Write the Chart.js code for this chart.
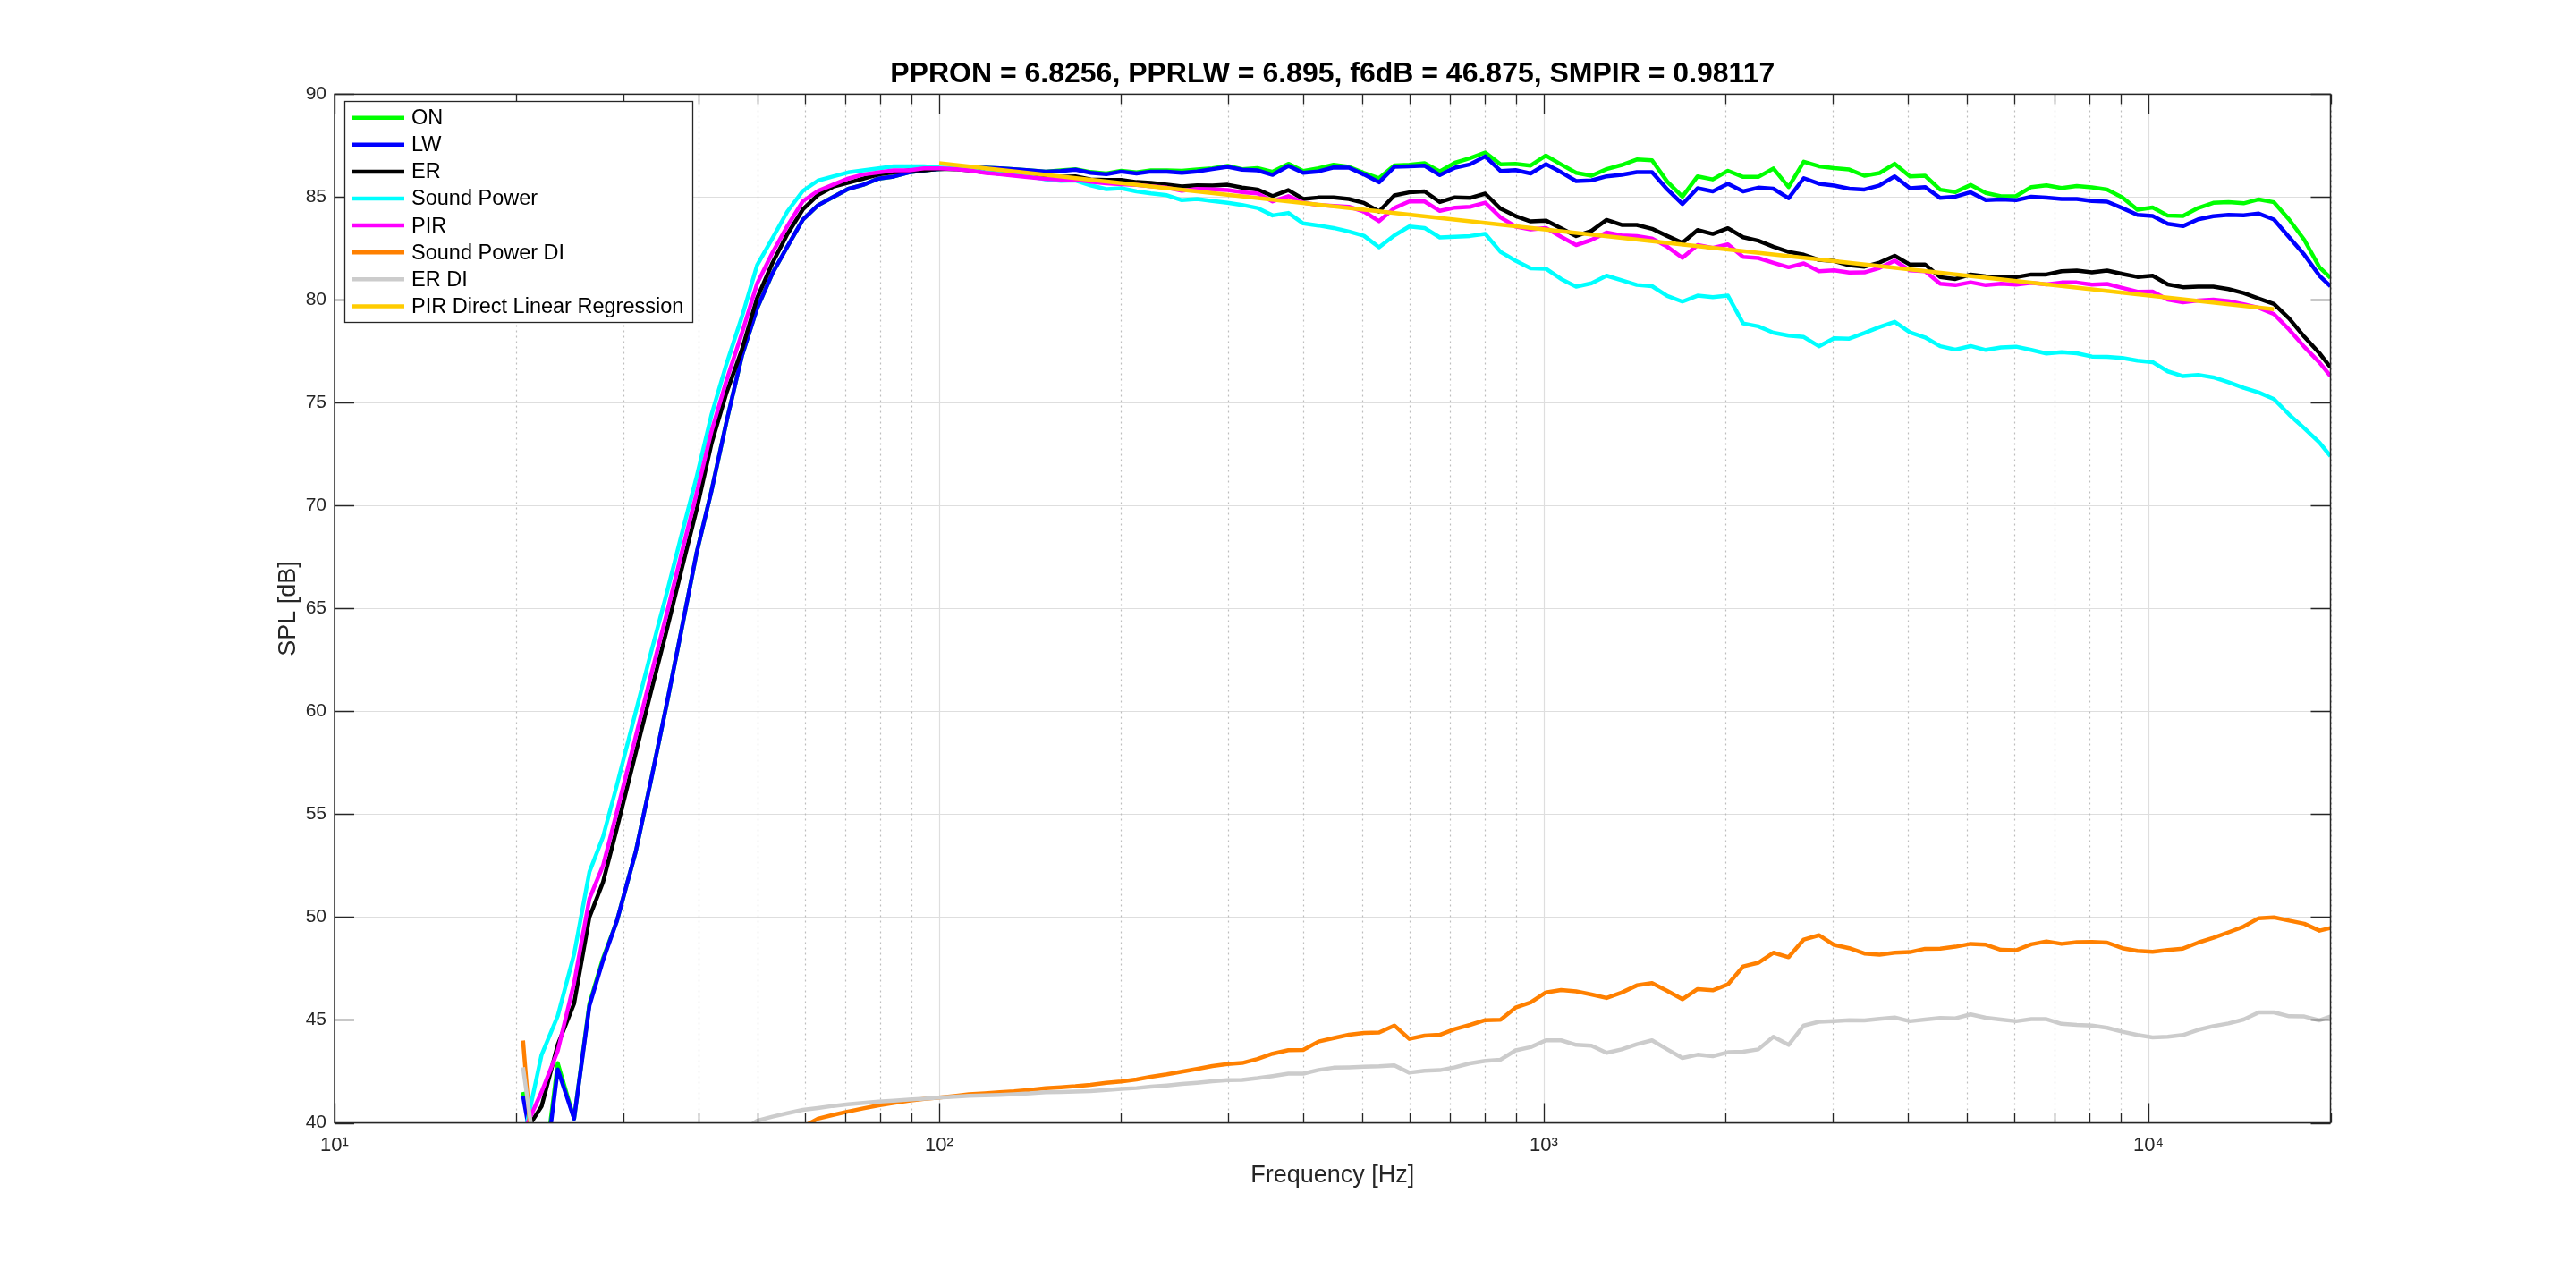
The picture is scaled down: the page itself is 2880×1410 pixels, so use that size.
<!DOCTYPE html>
<html>
<head>
<meta charset="utf-8">
<title>Spinorama</title>
<script src="https://cdn.jsdelivr.net/npm/chart.js@4.4.1/dist/chart.umd.min.js"></script>
<style>
  html, body { margin: 0; padding: 0; background: #fff; }
  #wrap { width: 2880px; height: 1410px; }
</style>
</head>
<body>
<div id="wrap"><canvas id="spl" width="2880" height="1410"></canvas></div>
<script>
'use strict';

// frequencies (Hz) shared by every curve
const freq = [20.5, 22, 23.4, 24.9, 26.4, 27.8, 29.3, 31.5, 33.4, 35.4, 37.5, 39.7, 42, 44.5, 47.2, 50, 53, 56.1, 59.5, 63, 66.7, 70.7, 74.9, 79.4, 84.1, 89.1, 94.4,
  100, 106, 112, 119, 126, 133, 141, 150, 159, 168, 178, 189, 200, 212, 224,
  238, 252, 267, 283, 300, 317, 336, 356, 378, 400, 424, 449, 476, 504, 534, 566, 599, 635, 673, 713, 755, 800, 848, 898, 951, 1008, 1068, 1131, 1199, 1270, 1345,
  1425, 1510, 1600, 1695, 1796, 1903, 2016, 2136, 2263, 2397, 2540, 2691, 2851, 3020, 3200, 3390, 3592, 3805, 4032, 4271, 4525, 4794, 5080, 5382, 5702, 6041, 6400, 6781, 7184, 7611,
  8063, 8543, 9051, 9589, 10159, 10763, 11404, 12082, 12800, 13561, 14368, 15222, 16127, 17086, 18102, 19179, 20000];

const onAxis = [41.5, 36.6, 42.9, 40.2, 45.8, 48.0, 49.8, 53.2, 56.7, 60.3, 64.0, 67.7, 70.7, 74.1, 77.3, 79.6, 81.3, 82.6, 83.9, 84.6, 85.0, 85.4, 85.6, 85.9, 86.0, 86.2, 86.3,
  86.37, 86.4, 86.41, 86.43, 86.4, 86.36, 86.3, 86.24, 86.3, 86.36, 86.22, 86.15, 86.28, 86.2, 86.3,
  86.3, 86.28, 86.34, 86.4, 86.52, 86.36, 86.41, 86.23, 86.62, 86.27, 86.4, 86.57, 86.47, 86.18, 85.92, 86.54, 86.57, 86.65, 86.25, 86.67, 86.89, 87.17, 86.59, 86.62, 86.53, 87.02, 86.59, 86.18, 86.04, 86.36, 86.56,
  86.83, 86.79, 85.75, 85.02, 86.01, 85.86, 86.28, 85.98, 85.98, 86.39, 85.49, 86.72, 86.5, 86.41, 86.34, 86.04, 86.17, 86.62, 86.01, 86.04, 85.36, 85.25, 85.59, 85.2, 85.04, 85.05, 85.49, 85.57, 85.44, 85.54,
  85.47, 85.37, 84.99, 84.39, 84.5, 84.1, 84.08, 84.47, 84.72, 84.76, 84.7, 84.89, 84.75, 83.91, 82.92, 81.59, 81.08];

const listeningWindow = [41.3, 36.3, 42.6, 40.2, 45.7, 47.9, 49.8, 53.2, 56.7, 60.3, 64.0, 67.7, 70.7, 74.1, 77.3, 79.6, 81.3, 82.6, 83.9, 84.6, 85.0, 85.4, 85.6, 85.9, 86.0, 86.2, 86.3,
  86.37, 86.4, 86.41, 86.43, 86.4, 86.36, 86.3, 86.24, 86.27, 86.33, 86.18, 86.11, 86.24, 86.15, 86.24,
  86.24, 86.18, 86.25, 86.36, 86.47, 86.33, 86.3, 86.08, 86.52, 86.18, 86.25, 86.44, 86.43, 86.1, 85.72, 86.47, 86.5, 86.53, 86.07, 86.43, 86.59, 86.98, 86.27, 86.31, 86.15, 86.6, 86.21, 85.78, 85.81, 86.01, 86.08,
  86.21, 86.21, 85.38, 84.66, 85.43, 85.28, 85.65, 85.28, 85.46, 85.41, 84.95, 85.92, 85.65, 85.56, 85.41, 85.37, 85.57, 86.01, 85.43, 85.49, 84.96, 85.02, 85.24, 84.86, 84.89, 84.85, 85.02, 84.97, 84.91, 84.91,
  84.81, 84.78, 84.47, 84.14, 84.08, 83.7, 83.59, 83.92, 84.07, 84.14, 84.12, 84.2, 83.91, 83.05, 82.2, 81.18, 80.67];

const earlyReflections = [39.4, 40.8, 43.8, 45.8, 50.0, 51.7, 54.3, 58.0, 61.0, 63.9, 66.9, 69.8, 73.0, 75.5, 77.6, 80.1, 81.8, 83.2, 84.4, 85.1, 85.5, 85.7, 85.9, 86.1, 86.2, 86.3, 86.3,
  86.38, 86.36, 86.3, 86.2, 86.14, 86.08, 86.02, 85.95, 85.99, 86.01, 85.86, 85.83, 85.83, 85.73, 85.69,
  85.6, 85.52, 85.57, 85.56, 85.6, 85.46, 85.37, 85.05, 85.34, 84.91, 84.98, 84.99, 84.91, 84.72, 84.3, 85.08, 85.23, 85.28, 84.76, 84.99, 84.96, 85.17, 84.44, 84.08, 83.82, 83.86, 83.49, 83.11, 83.36, 83.89, 83.65,
  83.65, 83.46, 83.11, 82.78, 83.4, 83.21, 83.49, 83.05, 82.88, 82.59, 82.34, 82.2, 81.95, 81.9, 81.69, 81.62, 81.82, 82.15, 81.72, 81.72, 81.11, 81.02, 81.24, 81.15, 81.12, 81.11, 81.24, 81.24, 81.4, 81.43,
  81.34, 81.43, 81.27, 81.12, 81.18, 80.76, 80.62, 80.65, 80.65, 80.53, 80.34, 80.07, 79.81, 79.1, 78.21, 77.41, 76.73];

const soundPower = [39.1, 43.3, 45.2, 48.2, 52.2, 53.9, 56.4, 60.0, 62.9, 65.7, 68.6, 71.4, 74.4, 76.9, 79.2, 81.7, 83.0, 84.3, 85.3, 85.8, 86.0, 86.2, 86.3, 86.4, 86.5, 86.5, 86.5,
  86.44, 86.4, 86.33, 86.2, 86.14, 86.08, 86.0, 85.86, 85.79, 85.81, 85.57, 85.39, 85.43, 85.28, 85.18,
  85.09, 84.85, 84.91, 84.81, 84.72, 84.62, 84.47, 84.11, 84.23, 83.72, 83.62, 83.5, 83.33, 83.12, 82.56, 83.14, 83.57, 83.5, 83.04, 83.07, 83.11, 83.21, 82.34, 81.91, 81.54, 81.52, 81.02, 80.65, 80.81, 81.18, 80.96,
  80.73, 80.67, 80.2, 79.92, 80.21, 80.14, 80.21, 78.86, 78.72, 78.41, 78.27, 78.2, 77.75, 78.14, 78.12, 78.39, 78.69, 78.94, 78.43, 78.18, 77.75, 77.59, 77.76, 77.57, 77.69, 77.73, 77.57, 77.4, 77.46, 77.41,
  77.25, 77.24, 77.18, 77.05, 76.98, 76.53, 76.3, 76.36, 76.24, 76.0, 75.73, 75.5, 75.18, 74.43, 73.76, 73.07, 72.41];

const pir = [39.5, 41.5, 43.5, 46.8, 50.9, 52.5, 55.1, 58.8, 61.8, 64.7, 67.7, 70.6, 73.6, 76.1, 78.4, 80.8, 82.3, 83.6, 84.8, 85.3, 85.6, 85.9, 86.1, 86.2, 86.3, 86.3, 86.4,
  86.4, 86.37, 86.3, 86.18, 86.11, 86.04, 85.96, 85.89, 85.86, 85.85, 85.75, 85.67, 85.63, 85.59, 85.53,
  85.46, 85.31, 85.4, 85.38, 85.34, 85.24, 85.18, 84.79, 85.05, 84.73, 84.62, 84.57, 84.53, 84.3, 83.83, 84.47, 84.79, 84.79, 84.33, 84.49, 84.53, 84.73, 84.01, 83.57, 83.43, 83.5, 83.07, 82.67, 82.92, 83.28, 83.14,
  83.11, 82.99, 82.59, 82.05, 82.67, 82.53, 82.7, 82.09, 82.04, 81.81, 81.59, 81.78, 81.4, 81.44, 81.33, 81.34, 81.56, 81.91, 81.44, 81.4, 80.79, 80.72, 80.86, 80.72, 80.79, 80.75, 80.83, 80.76, 80.85, 80.85,
  80.75, 80.78, 80.59, 80.4, 80.41, 80.02, 79.89, 79.97, 80.02, 79.94, 79.79, 79.62, 79.31, 78.56, 77.72, 76.96, 76.3];

// directivity indices sit below the 40 dB floor where they are null
const soundPowerDI = [44.0, 33.0, null, null, null, null, null, null, null, null, null, null, null, null, null, null, null, null, 39.8, 40.2, 40.38, 40.55, 40.7, 40.85, 40.97, 41.08, 41.16,
  41.23, 41.31, 41.39, 41.44, 41.49, 41.53, 41.6, 41.68, 41.73, 41.78, 41.85, 41.95, 42.01, 42.11, 42.24,
  42.36, 42.49, 42.62, 42.76, 42.86, 42.91, 43.1, 43.36, 43.53, 43.54, 43.95, 44.12, 44.28, 44.37, 44.39, 44.73, 44.08, 44.24, 44.28, 44.56, 44.76, 44.99, 45.01, 45.6, 45.85, 46.34, 46.46, 46.39, 46.24, 46.07, 46.33,
  46.68, 46.79, 46.41, 46.01, 46.5, 46.44, 46.73, 47.6, 47.78, 48.27, 48.05, 48.91, 49.12, 48.65, 48.49, 48.23, 48.17, 48.27, 48.3, 48.46, 48.47, 48.56, 48.7, 48.66, 48.41, 48.39, 48.68, 48.82, 48.7, 48.78,
  48.79, 48.76, 48.49, 48.36, 48.31, 48.4, 48.47, 48.76, 48.99, 49.26, 49.54, 49.95, 49.99, 49.83, 49.68, 49.34, 49.47];

const earlyReflectionsDI = [42.7, 36.2, null, null, null, null, null, null, null, null, null, null, null, null, 39.6, 40.1, 40.3, 40.47, 40.63, 40.72, 40.82, 40.9, 40.97, 41.03, 41.08, 41.13, 41.17,
  41.23, 41.27, 41.31, 41.34, 41.36, 41.39, 41.43, 41.49, 41.5, 41.52, 41.54, 41.6, 41.65, 41.69, 41.76,
  41.82, 41.89, 41.95, 42.02, 42.08, 42.09, 42.17, 42.27, 42.39, 42.39, 42.57, 42.68, 42.7, 42.73, 42.75, 42.79, 42.44, 42.53, 42.56, 42.7, 42.89, 43.01, 43.07, 43.52, 43.68, 44.01, 44.01, 43.79, 43.75, 43.4, 43.57,
  43.82, 44.01, 43.57, 43.15, 43.31, 43.24, 43.43, 43.46, 43.57, 44.18, 43.79, 44.73, 44.91, 44.95, 44.99, 44.98, 45.05, 45.12, 44.94, 45.02, 45.1, 45.08, 45.27, 45.11, 45.02, 44.94, 45.04, 45.04, 44.81, 44.76,
  44.73, 44.62, 44.43, 44.27, 44.15, 44.18, 44.27, 44.52, 44.7, 44.83, 45.02, 45.37, 45.37, 45.18, 45.17, 44.98, 45.17];

// regression line end points
const regressionFreq = [100, 16127];
const regressionLevel = [86.65, 79.55];

const yTicks = [40, 45, 50, 55, 60, 65, 70, 75, 80, 85, 90];
const title = 'PPRON = 6.8256, PPRLW = 6.895, f6dB = 46.875, SMPIR = 0.98117';

const FONT = "'Liberation Sans', Arial, Helvetica, sans-serif";
const INK = '#262626';

const pts = vals => freq.map((f, i) => ({x: f, y: vals[i]}));

const series = [
  {label: 'ON', color: '#00ff00', data: pts(onAxis)},
  {label: 'LW', color: '#0000ff', data: pts(listeningWindow)},
  {label: 'ER', color: '#000000', data: pts(earlyReflections)},
  {label: 'Sound Power', color: '#00ffff', data: pts(soundPower)},
  {label: 'PIR', color: '#ff00ff', data: pts(pir)},
  {label: 'Sound Power DI', color: '#ff8000', data: pts(soundPowerDI)},
  {label: 'ER DI', color: '#cccccc', data: pts(earlyReflectionsDI)},
  {label: 'PIR Direct Linear Regression', color: '#ffcc00',
    data: regressionFreq.map((f, i) => ({x: f, y: regressionLevel[i]}))}
];

const sup = {1: '\u00b9', 2: '\u00b2', 3: '\u00b3', 4: '\u2074'};

// grid, box, inward ticks and boxed legend like the MATLAB figure
const matlabAxes = {
  id: 'matlabAxes',
  beforeDatasetsDraw(chart) {
    const {ctx, chartArea: a, scales: {x, y}} = chart;
    ctx.save();
    ctx.lineWidth = 1.2;
    ctx.strokeStyle = '#dedede';
    y.ticks.forEach(t => {
      const py = Math.round(y.getPixelForValue(t.value)) + 0.5;
      ctx.beginPath(); ctx.moveTo(a.left, py); ctx.lineTo(a.right, py); ctx.stroke();
    });
    x.ticks.forEach(t => {
      const px = Math.round(x.getPixelForValue(t.value)) + 0.5;
      if (t.major) { ctx.setLineDash([]); ctx.strokeStyle = '#dedede'; }
      else { ctx.setLineDash([2, 4]); ctx.strokeStyle = '#bdbdbd'; }
      ctx.beginPath(); ctx.moveTo(px, a.top); ctx.lineTo(px, a.bottom); ctx.stroke();
    });
    ctx.restore();
  },
  afterDatasetsDraw(chart) {
    const {ctx, chartArea: a, scales: {x, y}} = chart;
    ctx.save();
    ctx.strokeStyle = INK;
    ctx.lineWidth = 1.3;
    ctx.beginPath();
    y.ticks.forEach(t => {
      const py = Math.round(y.getPixelForValue(t.value)) + 0.5;
      ctx.moveTo(a.left, py); ctx.lineTo(a.left + 22, py);
      ctx.moveTo(a.right, py); ctx.lineTo(a.right - 22, py);
    });
    x.ticks.forEach(t => {
      const px = Math.round(x.getPixelForValue(t.value)) + 0.5;
      const len = t.major ? 22 : 11;
      ctx.moveTo(px, a.bottom); ctx.lineTo(px, a.bottom - len);
      ctx.moveTo(px, a.top); ctx.lineTo(px, a.top + len);
    });
    ctx.stroke();
    ctx.lineWidth = 1.5;
    ctx.strokeRect(a.left, a.top, a.right - a.left, a.bottom - a.top);
    ctx.restore();
  },
  afterDraw(chart) {
    const {ctx} = chart;
    ctx.save();
    ctx.fillStyle = '#fff';
    ctx.fillRect(385, 113, 389, 247);
    ctx.strokeStyle = INK;
    ctx.lineWidth = 1.3;
    ctx.strokeRect(385.5, 113.5, 389, 247);
    ctx.font = '23.5px ' + FONT;
    ctx.textBaseline = 'middle';
    ctx.textAlign = 'left';
    chart.data.datasets.forEach((ds, i) => {
      const ly = 131.7 + 30.1 * i;
      ctx.strokeStyle = ds.borderColor;
      ctx.lineWidth = 4.5;
      ctx.beginPath(); ctx.moveTo(393, ly); ctx.lineTo(452, ly); ctx.stroke();
      ctx.fillStyle = '#000';
      ctx.fillText(ds.label, 460, ly + 1);
    });
    ctx.restore();
  }
};

Chart.defaults.font.family = FONT;

new Chart(document.querySelector('#spl'), {
  type: 'line',
  data: {
    datasets: series.map((s, i) => ({
      label: s.label,
      data: s.data,
      borderColor: s.color,
      backgroundColor: s.color,
      borderWidth: 4.5,
      borderJoinStyle: 'round',
      pointRadius: 0,
      tension: 0,
      fill: false,
      spanGaps: s.label === 'PIR Direct Linear Regression',
      clip: 0,
      order: series.length - i
    }))
  },
  options: {
    responsive: false,
    devicePixelRatio: 1,
    animation: false,
    layout: {padding: {left: 0, right: 274.5, top: 0, bottom: 0}},
    plugins: {
      legend: {display: false},
      tooltip: {enabled: false},
      title: {
        display: true,
        text: title,
        fullSize: false,
        color: '#000',
        font: {size: 32, weight: 'bold'},
        padding: {top: 64, bottom: 3}
      }
    },
    scales: {
      x: {
        type: 'logarithmic',
        position: 'bottom',
        min: 10,
        max: 20000,
        afterBuildTicks: scale => {
          const ticks = [];
          [10, 100, 1000, 10000].forEach(d => {
            for (let m = 1; m <= 9; m++) {
              if (m * d <= 20000) ticks.push({value: m * d, major: m === 1});
            }
          });
          scale.ticks = ticks;
        },
        afterFit: scale => { scale.height = 154.5; },
        grid: {display: false, drawTicks: false},
        border: {display: false},
        ticks: {
          autoSkip: false,
          maxRotation: 0,
          color: INK,
          font: {size: 22},
          padding: 12,
          callback: (v, i, ticks) => ticks[i].major ? '10' + sup[Math.round(Math.log10(v))] : ''
        },
        title: {
          display: true,
          text: 'Frequency [Hz]',
          color: INK,
          font: {size: 27},
          padding: {top: 0, bottom: 79}
        }
      },
      y: {
        min: 40,
        max: 90,
        afterBuildTicks: scale => { scale.ticks = yTicks.map(v => ({value: v})); },
        afterFit: scale => { scale.width = 374; },
        grid: {display: false, drawTicks: false},
        border: {display: false},
        ticks: {color: INK, font: {size: 21}, padding: 9},
        title: {
          display: true,
          text: 'SPL [dB]',
          color: INK,
          font: {size: 27},
          padding: {top: 306, bottom: 0}
        }
      }
    }
  },
  plugins: [matlabAxes]
});
</script>
</body>
</html>
